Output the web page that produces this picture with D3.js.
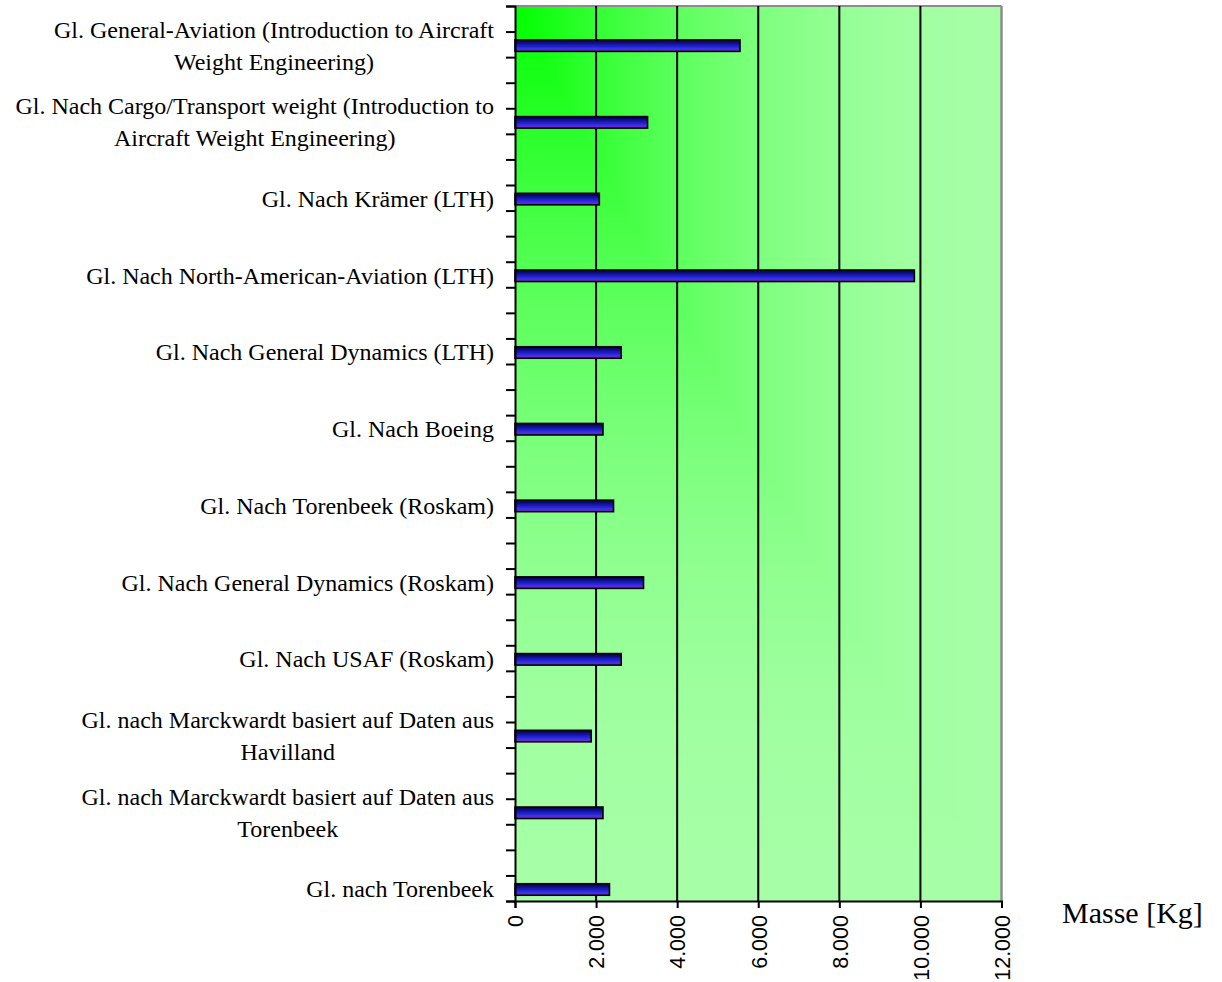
<!DOCTYPE html>
<html>
<head>
<meta charset="utf-8">
<script src="https://cdn.jsdelivr.net/npm/d3@7"></script>
<style>
  html, body { margin: 0; padding: 0; background: #ffffff; }
  svg { display: block; }
</style>
</head>
<body>
<svg id="chart" width="1222" height="982"></svg>
<script>
// ---- data ----
const categories = [
  "Gl. General-Aviation (Introduction to Aircraft Weight Engineering)",
  "Gl. Nach Cargo/Transport weight (Introduction to Aircraft Weight Engineering)",
  "Gl. Nach Krämer (LTH)",
  "Gl. Nach North-American-Aviation (LTH)",
  "Gl. Nach General Dynamics (LTH)",
  "Gl. Nach Boeing",
  "Gl. Nach Torenbeek (Roskam)",
  "Gl. Nach General Dynamics (Roskam)",
  "Gl. Nach USAF (Roskam)",
  "Gl. nach Marckwardt basiert auf Daten aus Havilland",
  "Gl. nach Marckwardt basiert auf Daten aus Torenbeek",
  "Gl. nach Torenbeek"
];
const masse = [5550, 3270, 2080, 9850, 2620, 2170, 2430, 3170, 2620, 1880, 2170, 2330];
const xTicks = [0, 2000, 4000, 6000, 8000, 10000, 12000];
const axisTitle = "Masse [Kg]";

// ---- layout ----
const pLeft = 515, pRight = 1001.5, pTop = 6, pBottom = 901;
const W = pRight - pLeft, H = pBottom - pTop;
const svg = d3.select("#chart");

const x = d3.scaleLinear().domain([0, 12000]).range([pLeft, pRight]);
const slots = categories.length * 3 - 1; // 35 tick intervals on the category axis
const y = d3.scaleLinear().domain([0, slots]).range([pTop, pBottom]);
const barCenter = i => y(i * 3 + 1.55);
const barH = 11.5;

const de = d3.formatLocale({decimal: ",", thousands: ".", grouping: [3], currency: ["", "€"]});
const fmt = de.format(",");

// ---- defs ----
const defs = svg.append("defs");
const bg = defs.append("linearGradient").attr("id", "barGrad")
  .attr("x1", 0).attr("y1", 0).attr("x2", 0).attr("y2", 1);
[[0, "#00004a"], [0.2, "#0a0a74"], [0.42, "#1818ac"], [0.62, "#2626d6"], [0.76, "#3434ea"],
 [0.86, "#6a20d8"], [1, "#8c2ccc"]].forEach(([o, c]) =>
  bg.append("stop").attr("offset", o).attr("stop-color", c));

// ---- plot background: rectangular "from corner" gradient ----
const N = 140;
const bgCol = t => { const v = Math.round(166 * (1 - (1 - t) * (1 - t))); return `rgb(${v},255,${v})`; };
const steps = d3.range(N, 0, -1).map(i => i / N);
svg.append("g").selectAll("rect").data(steps).join("rect")
  .attr("x", pLeft).attr("y", pTop)
  .attr("width", s => s * W).attr("height", s => s * H)
  .attr("fill", s => bgCol(s - 0.5 / N));

// top and right border (grey)
svg.append("line").attr("x1", pLeft).attr("x2", pRight).attr("y1", pTop).attr("y2", pTop)
  .attr("stroke", "#8c8c8c").attr("stroke-width", 2);
svg.append("line").attr("x1", pRight).attr("x2", pRight).attr("y1", pTop).attr("y2", pBottom)
  .attr("stroke", "#8c8c8c").attr("stroke-width", 2.5);

// vertical gridlines
svg.append("g").selectAll("line").data(xTicks.filter(d => d > 0 && d < 12000)).join("line")
  .attr("x1", d => x(d)).attr("x2", d => x(d)).attr("y1", pTop).attr("y2", pBottom)
  .attr("stroke", "#000").attr("stroke-width", 2);

// bars
svg.append("g").selectAll("rect").data(masse).join("rect")
  .attr("x", x(0)).attr("y", (d, i) => barCenter(i) - barH / 2)
  .attr("width", d => x(d) - x(0)).attr("height", barH)
  .attr("fill", "url(#barGrad)").attr("stroke", "#000").attr("stroke-width", 1.6);

// ---- y axis (category) ----
const yAxis = d3.axisLeft(y).tickValues(d3.range(0, slots + 1)).tickSize(9).tickFormat("");
const gy = svg.append("g").attr("transform", `translate(${pLeft},0)`).call(yAxis);
gy.select(".domain").attr("stroke", "#000").attr("stroke-width", 2);
gy.selectAll(".tick line").attr("stroke", "#000").attr("stroke-width", 2);

// category labels, wrapped and centered as a block, right edge near axis
const labelFont = 24, lineH = 32, maxW = 495, labelRight = 494;
const lg = svg.append("g").attr("font-family", "'Liberation Serif', 'Times New Roman', serif")
  .attr("font-size", labelFont).attr("fill", "#000");
const measurer = lg.append("text").attr("visibility", "hidden");
const measure = s => { measurer.text(s); return measurer.node().getComputedTextLength(); };
categories.forEach((c, i) => {
  const words = c.split(" ");
  const lines = [];
  let cur = "";
  words.forEach(w => {
    const t = cur ? cur + " " + w : w;
    if (cur && measure(t) > maxW) { lines.push(cur); cur = w; } else cur = t;
  });
  lines.push(cur);
  const bw = d3.max(lines, measure);
  const cx = labelRight - bw / 2;
  const cy = barCenter(i);
  lines.forEach((ln, j) => {
    lg.append("text").attr("x", cx)
      .attr("y", cy + (j - (lines.length - 1) / 2) * lineH + 0.33 * labelFont)
      .attr("text-anchor", "middle").text(ln);
  });
});
measurer.remove();

// ---- x axis ----
const xAxis = d3.axisBottom(x).tickValues(xTicks).tickSize(7).tickFormat(fmt);
const gx = svg.append("g").attr("transform", `translate(0,${pBottom})`).call(xAxis);
gx.select(".domain").attr("stroke", "#000").attr("stroke-width", 2);
gx.selectAll(".tick line").attr("stroke", "#000").attr("stroke-width", 2);
gx.selectAll(".tick text")
  .attr("font-family", "'Liberation Sans', Arial, sans-serif").attr("font-size", 21.5).attr("fill", "#000")
  .attr("transform", "rotate(-90)").attr("text-anchor", "end")
  .attr("x", -14).attr("y", 0).attr("dy", "0.36em");

// axis title
svg.append("text").attr("x", 1062).attr("y", 923)
  .attr("font-family", "'Liberation Serif', 'Times New Roman', serif").attr("font-size", 30)
  .attr("fill", "#000").text(axisTitle);
</script>
</body>
</html>
